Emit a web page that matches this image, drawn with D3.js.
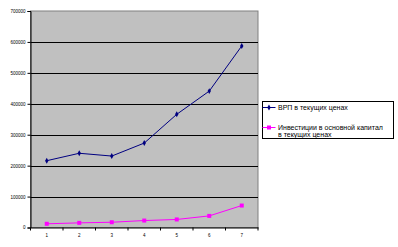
<!DOCTYPE html>
<html>
<head>
<meta charset="utf-8">
<script src="https://cdn.jsdelivr.net/npm/d3@7"></script>
<style>
  body { margin: 0; background: #fff; overflow: hidden; }
  svg { display: block; }
  text { font-family: Arial, 'Liberation Sans', sans-serif; }
</style>
</head>
<body>
<svg width="398" height="247"></svg>
<script>
const categories = ['1', '2', '3', '4', '5', '6', '7'];
const grpValues = [216000, 240000, 231000, 273000, 366000, 441000, 587000];
const investValues = [12000, 15000, 17000, 22500, 26000, 37500, 71000];
const seriesNames = [['ВРП в текущих ценах'], ['Инвестиции в основной капитал', 'в текущих ценах']];
const yTicks = [0, 100000, 200000, 300000, 400000, 500000, 600000, 700000];

const svg = d3.select('svg');
const margin = { top: 11, left: 30.5 };
const innerWidth = 258 - margin.left;
const innerHeight = 227.5 - margin.top;

const xScale = d3.scaleBand().domain(categories).range([0, innerWidth]);
const yScale = d3.scaleLinear().domain([0, 700000]).range([innerHeight, 0]);

const g = svg.append('g').attr('transform', `translate(${margin.left}, ${margin.top})`);

// plot area
g.append('rect')
  .attr('width', innerWidth)
  .attr('height', innerHeight)
  .attr('fill', '#c0c0c0')
  .attr('stroke', '#808080');

// gridlines
g.selectAll('.grid')
  .data(yTicks.slice(1, -1))
  .enter()
  .append('line')
  .attr('x1', 0)
  .attr('x2', innerWidth)
  .attr('y1', (d) => Math.round(yScale(d)) + 0.5)
  .attr('y2', (d) => Math.round(yScale(d)) + 0.5)
  .attr('stroke', '#000');

// y axis
const yAxis = d3.axisLeft(yScale).tickValues(yTicks).tickSize(3).tickPadding(2).tickFormat(d3.format('d'));
const yg = g.append('g').call(yAxis);
yg.select('.domain').attr('stroke', '#000');
yg.selectAll('text').attr('font-size', 4.5).attr('fill', '#000');

// x axis
const xAxis = d3.axisBottom(xScale).tickSize(0).tickPadding(6);
const xg = g.append('g').attr('transform', `translate(0, ${innerHeight})`).call(xAxis);
xg.select('.domain').attr('stroke', '#000');
xg.selectAll('text').attr('font-size', 4.5).attr('fill', '#000');
xg.selectAll('.sep')
  .data(d3.range(categories.length + 1))
  .enter()
  .append('line')
  .attr('x1', (i) => i * xScale.step())
  .attr('x2', (i) => i * xScale.step())
  .attr('y1', 0)
  .attr('y2', 3)
  .attr('stroke', '#000');

const xPos = (d, i) => xScale(categories[i]) + xScale.bandwidth() / 2;
const line = d3.line().x(xPos).y((d) => yScale(d));

// ВРП
g.append('path').datum(grpValues).attr('d', line).attr('fill', 'none').attr('stroke', '#000080');
g.selectAll('.grp')
  .data(grpValues)
  .enter()
  .append('path')
  .attr('d', d3.symbol(d3.symbolDiamond, 10))
  .attr('transform', (d, i) => `translate(${xPos(d, i)}, ${yScale(d)})`)
  .attr('fill', '#000080');

// Инвестиции
g.append('path').datum(investValues).attr('d', line).attr('fill', 'none').attr('stroke', '#ff00ff');
g.selectAll('.inv')
  .data(investValues)
  .enter()
  .append('rect')
  .attr('x', (d, i) => xPos(d, i) - 2)
  .attr('y', (d) => yScale(d) - 2)
  .attr('width', 4)
  .attr('height', 4)
  .attr('fill', '#ff00ff');

// legend
const lg = svg.append('g').attr('transform', 'translate(262.5, 101.5)');
lg.append('rect').attr('width', 131).attr('height', 37).attr('fill', '#fff').attr('stroke', '#000');

lg.append('line').attr('x1', 0).attr('x2', 13).attr('y1', 6).attr('y2', 6).attr('stroke', '#000080');
lg.append('path').attr('d', d3.symbol(d3.symbolDiamond, 10)).attr('transform', 'translate(6.5, 6)').attr('fill', '#000080');

lg.append('line').attr('x1', 0).attr('x2', 13).attr('y1', 26).attr('y2', 26).attr('stroke', '#ff00ff');
lg.append('rect').attr('x', 4.5).attr('y', 24).attr('width', 4).attr('height', 4).attr('fill', '#ff00ff');

const entryY = [8.5, 28.5];
seriesNames.forEach((lines, k) => {
  lines.forEach((t, j) => {
    lg.append('text')
      .attr('x', 15.5)
      .attr('y', entryY[k] + j * 7)
      .attr('font-size', 7)
      .text(t);
  });
});
</script>
</body>
</html>
